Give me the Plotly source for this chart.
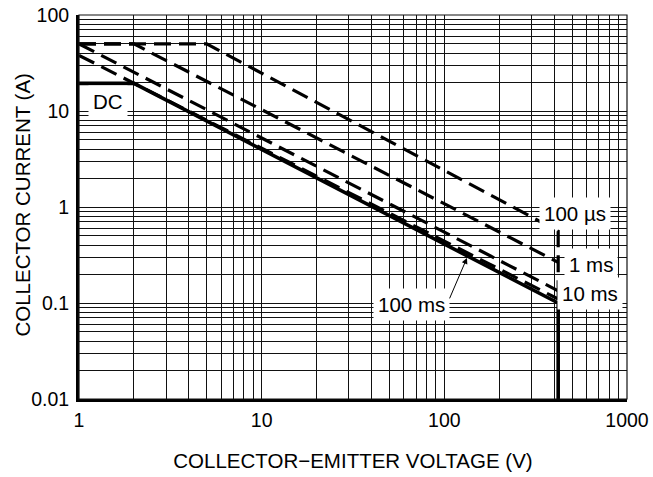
import numpy as np
import plotly.graph_objects as go

# ---- data ----
v_100us = [1, 5, 420, 420]
i_100us = [50, 50, 0.56, 0.1]

v_1ms = [1, 2, 420]
i_1ms = [50, 50, 0.265]

v_10ms = [1, 420]
i_10ms = [50, 0.134]

v_100ms = [1, 420]
i_100ms = [38, 0.11]

v_dc = [1, 2, 420, 420]
i_dc = [19.4, 19.4, 0.1, 0.01]

x_ticks = [1, 10, 100, 1000]
x_ticktext = ["1", "10", "100", "1000"]
y_ticks = [0.01, 0.1, 1, 10, 100]
y_ticktext = ["0.01", "0.1", "1", "10", "100"]

labels = ["100 µs", "1 ms", "10 ms", "100 ms", "DC"]
label_v = [519, 634, 626, 65.7, 1.44]
label_i = [0.866, 0.249, 0.126, 0.0964, 12.7]

arrow_v = 133
arrow_i = 0.295

FONT = "Liberation Sans, Arial, sans-serif"
GRID = "#111111"
DASH = "17px,8px"

fig = go.Figure()

def add_line(v, i, dash, width):
    fig.add_trace(go.Scatter(x=v, y=i, mode="lines",
                             line=dict(color="black", width=width, dash=dash),
                             showlegend=False, hoverinfo="skip"))

add_line(v_100us, i_100us, DASH, 3.2)
add_line(v_1ms, i_1ms, DASH, 3.2)
add_line(v_10ms, i_10ms, DASH, 3.2)
add_line(v_100ms, i_100ms, DASH, 3.2)
add_line(v_dc, i_dc, "solid", 3.6)

for t, v, i in zip(labels, label_v, label_i):
    fig.add_annotation(x=np.log10(v), y=np.log10(i), text=t, showarrow=False,
                       font=dict(family=FONT, size=20.5, color="black"),
                       bgcolor="white", borderpad=4)

fig.add_annotation(x=np.log10(arrow_v), y=np.log10(arrow_i), text="",
                   showarrow=True, arrowhead=2, arrowsize=1.2, arrowwidth=1,
                   arrowcolor="black", ax=-18, ay=42, standoff=0)

# y-axis title placed as rotated text left of the tick labels
fig.add_annotation(xref="paper", yref="paper", x=0, y=0.505, xshift=-56.5,
                   xanchor="center", yanchor="middle", textangle=-90,
                   text="COLLECTOR CURRENT (A)", showarrow=False,
                   font=dict(family=FONT, size=20.5, color="black"))

axis_common = dict(
    type="log",
    automargin=False,
    showgrid=True, gridcolor=GRID, gridwidth=1,
    minor=dict(dtick="D1", showgrid=True, gridcolor=GRID, gridwidth=1, ticks=""),
    ticks="",
    showline=True, linecolor="black", linewidth=3,
    zeroline=False,
    tickfont=dict(family=FONT, size=19.5, color="black"),
)

fig.update_xaxes(**axis_common, range=[0, 3], tickvals=x_ticks, ticktext=x_ticktext,
                 ticklabelstandoff=2,
                 title=dict(text="COLLECTOR−EMITTER VOLTAGE (V)",
                            font=dict(family=FONT, size=20.5, color="black"),
                            standoff=24))
fig.update_yaxes(**axis_common, range=[-2, 2], tickvals=y_ticks, ticktext=y_ticktext,
                 ticklabelstandoff=3)

# thin frame for top / right edges
fig.add_shape(type="rect", xref="paper", yref="paper", x0=0, y0=0, x1=1, y1=1,
              line=dict(color=GRID, width=1.2), layer="above")

fig.update_layout(
    width=653, height=477,
    margin=dict(l=79, r=26, t=15, b=78),
    paper_bgcolor="white", plot_bgcolor="white",
    font=dict(family=FONT, color="black"),
)

fig.write_html("out.html", config={"displayModeBar": False},
               post_script="document.body.style.margin='0px';")
